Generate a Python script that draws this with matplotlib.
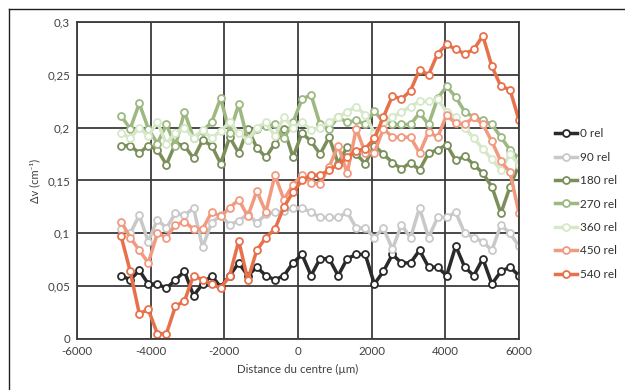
import matplotlib.pyplot as plt
from matplotlib.lines import Line2D

# positions des mesures (µm)
distance = [-4800, -4555, -4309, -4064, -3818, -3573, -3327, -3082, -2836, -2591,
            -2345, -2100, -1855, -1609, -1364, -1118, -873, -627, -382, -136,
            109, 355, 600, 845, 1091, 1336, 1582, 1827, 2073, 2318,
            2564, 2809, 3055, 3300, 3545, 3791, 4036, 4282, 4527, 4773,
            5018, 5264, 5509, 5755, 6000]

rel_0 = [0.060, 0.056, 0.065, 0.052, 0.052, 0.048, 0.056, 0.064, 0.041, 0.052,
         0.060, 0.049, 0.060, 0.072, 0.060, 0.068, 0.060, 0.056, 0.060, 0.072,
         0.080, 0.060, 0.076, 0.076, 0.060, 0.076, 0.080, 0.080, 0.052, 0.064,
         0.080, 0.072, 0.072, 0.084, 0.068, 0.068, 0.060, 0.088, 0.068, 0.060,
         0.076, 0.052, 0.064, 0.068, 0.060]
rel_90 = [0.104, 0.100, 0.117, 0.092, 0.113, 0.105, 0.119, 0.117, 0.124, 0.087,
          0.110, 0.117, 0.108, 0.112, 0.118, 0.110, 0.118, 0.120, 0.121, 0.124,
          0.124, 0.120, 0.115, 0.115, 0.115, 0.120, 0.105, 0.105, 0.096, 0.105,
          0.085, 0.108, 0.096, 0.124, 0.096, 0.115, 0.115, 0.120, 0.100, 0.096,
          0.092, 0.084, 0.108, 0.100, 0.088]
rel_180 = [0.183, 0.183, 0.176, 0.183, 0.179, 0.165, 0.185, 0.183, 0.171, 0.188,
           0.183, 0.166, 0.191, 0.176, 0.199, 0.181, 0.172, 0.185, 0.199, 0.172,
           0.195, 0.187, 0.175, 0.191, 0.166, 0.182, 0.175, 0.166, 0.183, 0.175,
           0.167, 0.161, 0.167, 0.160, 0.176, 0.179, 0.184, 0.169, 0.173, 0.165,
           0.157, 0.144, 0.119, 0.144, 0.165]
rel_270 = [0.211, 0.199, 0.223, 0.199, 0.185, 0.203, 0.183, 0.215, 0.190, 0.197,
           0.205, 0.228, 0.195, 0.222, 0.188, 0.199, 0.202, 0.203, 0.190, 0.205,
           0.227, 0.231, 0.203, 0.199, 0.210, 0.205, 0.207, 0.203, 0.216, 0.205,
           0.203, 0.203, 0.203, 0.214, 0.203, 0.228, 0.239, 0.229, 0.215, 0.210,
           0.207, 0.203, 0.191, 0.179, 0.171]
rel_360 = [0.195, 0.190, 0.200, 0.192, 0.205, 0.185, 0.195, 0.200, 0.190, 0.198,
           0.190, 0.197, 0.205, 0.195, 0.188, 0.200, 0.205, 0.192, 0.210, 0.200,
           0.205, 0.198, 0.200, 0.205, 0.210, 0.215, 0.220, 0.212, 0.195, 0.205,
           0.210, 0.215, 0.220, 0.225, 0.225, 0.227, 0.215, 0.210, 0.200, 0.190,
           0.180, 0.170, 0.160, 0.175, 0.165]
rel_450 = [0.111, 0.096, 0.084, 0.072, 0.100, 0.096, 0.108, 0.111, 0.104, 0.104,
           0.120, 0.116, 0.124, 0.132, 0.116, 0.140, 0.120, 0.155, 0.132, 0.146,
           0.155, 0.148, 0.147, 0.163, 0.183, 0.157, 0.199, 0.176, 0.176, 0.199,
           0.191, 0.191, 0.191, 0.176, 0.196, 0.191, 0.212, 0.204, 0.203, 0.210,
           0.203, 0.187, 0.168, 0.158, 0.119]
rel_540 = [0.097, 0.064, 0.024, 0.028, 0.005, 0.005, 0.031, 0.036, 0.060, 0.056,
           0.052, 0.048, 0.060, 0.093, 0.056, 0.084, 0.096, 0.104, 0.125, 0.139,
           0.150, 0.155, 0.155, 0.160, 0.165, 0.172, 0.178, 0.180, 0.190, 0.210,
           0.230, 0.227, 0.235, 0.255, 0.250, 0.270, 0.279, 0.274, 0.270, 0.274,
           0.287, 0.258, 0.239, 0.236, 0.207]

series = [rel_0, rel_90, rel_180, rel_270, rel_360, rel_450, rel_540]
noms = ["0 rel", "90 rel", "180 rel", "270 rel", "360 rel", "450 rel", "540 rel"]
couleurs = ["#2a2a2a", "#c9c9c9", "#7b8f5a", "#9db880", "#d6e8c8", "#f29a80", "#e8714c"]

xticks = [-6000, -4000, -2000, 0, 2000, 4000, 6000]
yticks = [0, 0.05, 0.1, 0.15, 0.2, 0.25, 0.3]
yticklabels = ["0", "0,05", "0,1", "0,15", "0,2", "0,25", "0,3"]

plt.rcParams['font.family'] = ['Lato', 'DejaVu Sans']

fig = plt.figure(figsize=(6.25, 3.9), dpi=100)
ax = fig.add_axes([0.1232, 0.1308, 0.7072, 0.8128])

for y, nom, c in zip(series, noms, couleurs):
    ax.plot(distance, y, color=c, lw=2.5, marker='o', ms=5,
            mfc='white', mec=c, mew=1.3, label=nom)

ax.set_xlim(-6000, 6000)
ax.set_ylim(0, 0.3)
ax.set_xticks(xticks)
ax.set_xticklabels([str(v) for v in xticks])
ax.set_yticks(yticks)
ax.set_yticklabels(yticklabels)
ax.grid(True, color='#3c3c3c', lw=1.3)
ax.set_axisbelow(True)
for s in ax.spines.values():
    s.set_color('#3c3c3c')
    s.set_linewidth(1.3)
ax.tick_params(length=0, labelsize=8.3, colors='#404040', pad=5)

ax.set_xlabel("Distance du centre (µm)", fontsize=8.3, color='#404040', labelpad=5)
ax.set_ylabel("Δv (cm⁻¹)", fontsize=8, color='#404040', labelpad=5)

fig.legend(loc='upper left', bbox_to_anchor=(0.88, 0.683), frameon=False,
           fontsize=8.5, handlelength=1.85, labelspacing=1.05, handletextpad=0.25,
           labelcolor='#303030', borderaxespad=0)

# cadre du graphique (haut et gauche)
fig.add_artist(Line2D([9 / 625, 1], [1 - 9 / 390, 1 - 9 / 390], color='#202020', lw=1))
fig.add_artist(Line2D([9 / 625, 9 / 625], [0, 1 - 9 / 390], color='#202020', lw=1))

fig.savefig("out.png", dpi=100)
